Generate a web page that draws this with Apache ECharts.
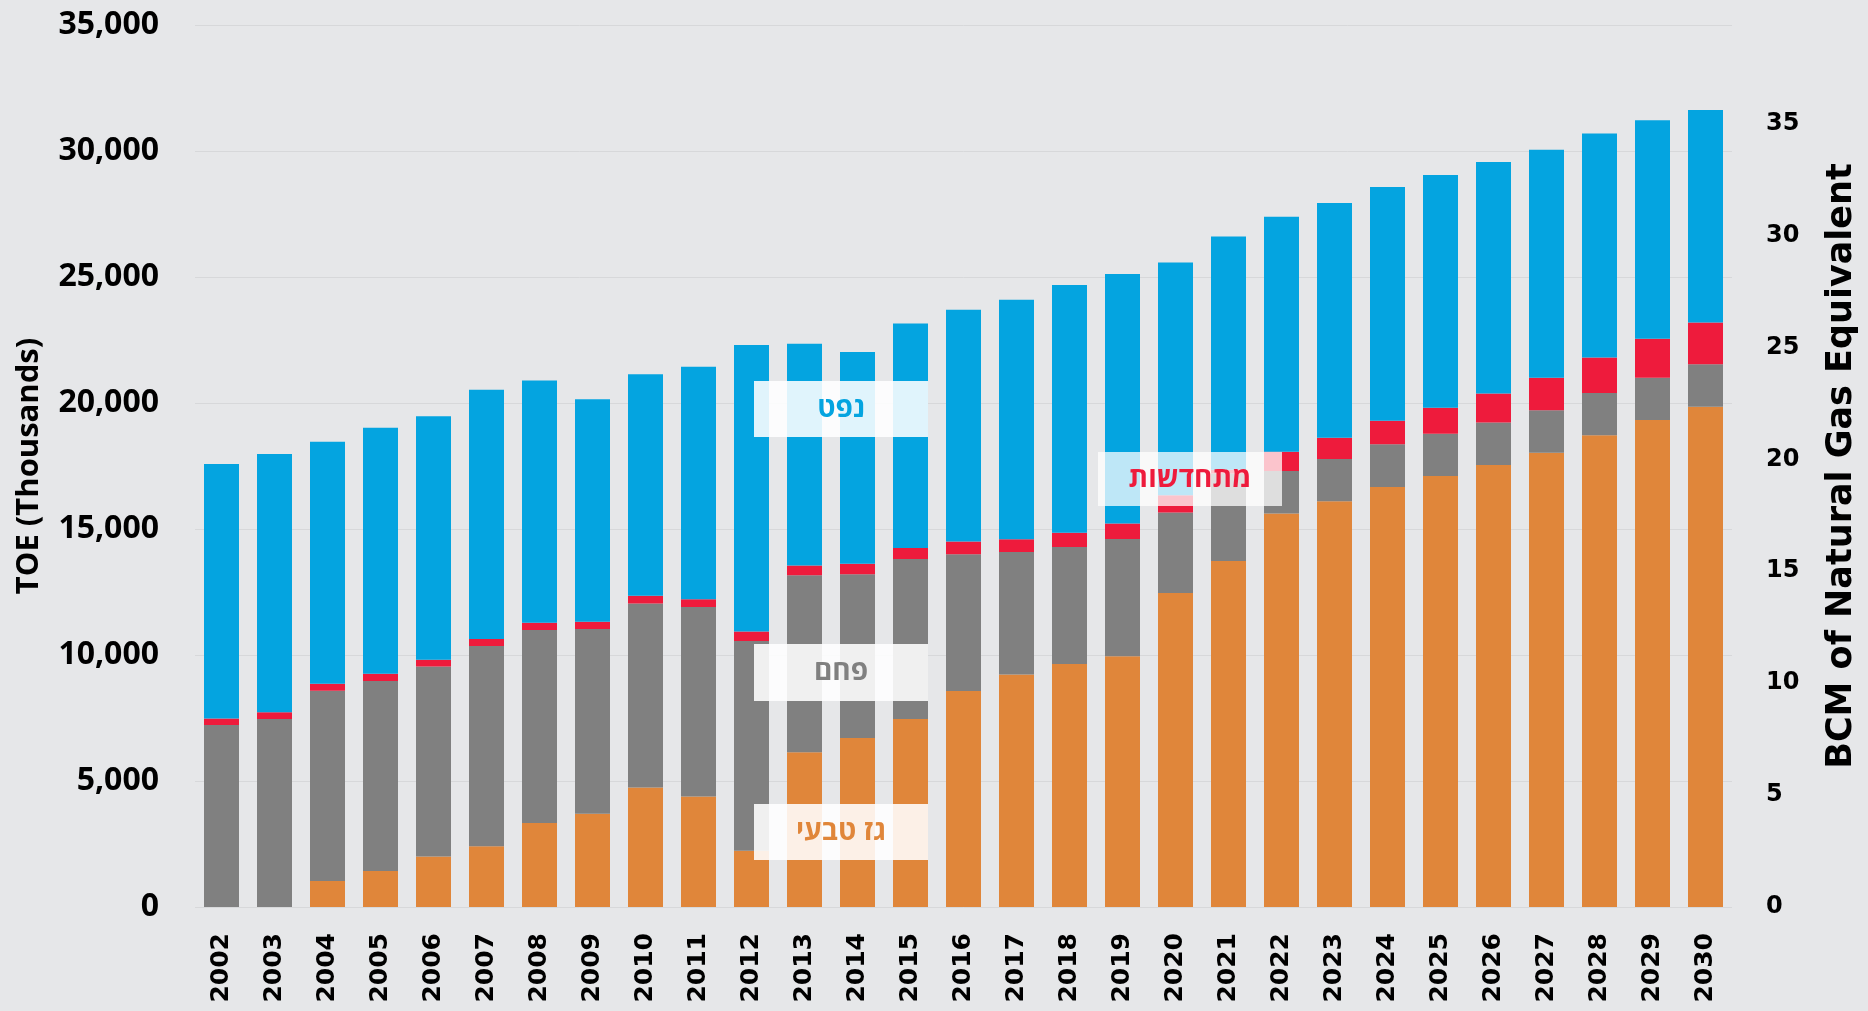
<!DOCTYPE html>
<html>
<head>
<meta charset="utf-8">
<title>Energy mix</title>
<script src="https://cdn.jsdelivr.net/npm/echarts@6/dist/echarts.min.js"></script>
<style>
  html, body { margin: 0; padding: 0; background: #e6e7e9; }
  #chart { width: 1868px; height: 1011px; }
</style>
</head>
<body>
<div id="chart"></div>
<script>
  // years on the x axis
  var years = ['2002','2003','2004','2005','2006','2007','2008','2009','2010','2011',
    '2012','2013','2014','2015','2016','2017','2018','2019','2020','2021',
    '2022','2023','2024','2025','2026','2027','2028','2029','2030'];

  // TOE (thousands), stacked bottom to top
  var gasValues = [0, 0, 1030, 1430, 2000, 2410, 3330, 3700, 4740, 4380,
    2230, 6140, 6710, 7460, 8570, 9230, 9640, 9950, 12460, 13730,
    15620, 16100, 16670, 17100, 17540, 18030, 18720, 19330, 19850];
  var coalValues = [7220, 7460, 7550, 7540, 7540, 7950, 7660, 7330, 7300, 7520,
    8330, 7020, 6490, 6350, 5430, 4860, 4650, 4650, 3190, 3470,
    1680, 1680, 1690, 1680, 1690, 1680, 1680, 1670, 1690];
  var renewValues = [260, 270, 280, 290, 270, 270, 290, 290, 310, 310,
    370, 390, 420, 440, 500, 500, 560, 620, 690, 150,
    770, 840, 940, 1030, 1150, 1290, 1410, 1550, 1650];
  var oilValues = [10100, 10250, 9600, 9760, 9660, 9900, 9610, 8830, 8790, 9230,
    11370, 8800, 8400, 8900, 9200, 9510, 9830, 9900, 9240, 9260,
    9320, 9320, 9270, 9240, 9180, 9050, 8880, 8670, 8440];

  // left axis 0..35,000 ; right axis BCM, same zero, 35 BCM sits lower
  var leftMax = 35000;
  var rightMax = 39.4;

  var chart = echarts.init(document.getElementById('chart'));

  // translucent white label box with the series name on it
  function labelBox(x, y, w, h, text, color, alpha) {
    return {
      type: 'group',
      x: x,
      y: y,
      children: [
        {
          type: 'rect',
          z: 100,
          shape: { x: 0, y: 0, width: w, height: h },
          style: { fill: 'rgba(255,255,255,' + alpha + ')' }
        },
        {
          type: 'text',
          z: 101,
          x: w / 2,
          y: h / 2,
          style: {
            text: text,
            fill: color,
            font: 'bold 28px "Open Sans", "DejaVu Sans", sans-serif',
            align: 'center',
            verticalAlign: 'middle'
          }
        }
      ]
    };
  }

  chart.setOption({
    backgroundColor: '#e6e7e9',
    animation: false,
    grid: {
      left: 195,
      right: 136,
      top: 25,
      bottom: 104
    },
    xAxis: {
      type: 'category',
      data: years,
      axisLine: { show: false },
      axisTick: { show: false },
      axisLabel: {
        rotate: 90,
        margin: 26,
        color: '#000',
        fontWeight: 'bold',
        fontSize: 25,
        fontFamily: 'DejaVu Sans',
        interval: 0
      }
    },
    yAxis: [
      {
        type: 'value',
        min: 0,
        max: leftMax,
        interval: 5000,
        name: 'TOE (Thousands)',
        nameLocation: 'middle',
        nameGap: 150,
        nameTextStyle: {
          color: '#000',
          fontWeight: 'bold',
          fontSize: 31,
          fontFamily: 'Open Sans'
        },
        axisLine: { show: false },
        axisTick: { show: false },
        splitLine: { lineStyle: { color: '#d7d8da', width: 1 } },
        axisLabel: {
          margin: 36,
          color: '#000',
          fontWeight: 'bold',
          fontSize: 32,
          fontFamily: 'Open Sans',
          formatter: function (v) { return v.toLocaleString('en-US'); }
        }
      },
      {
        type: 'value',
        min: 0,
        max: rightMax,
        interval: 5,
        position: 'right',
        name: 'BCM of Natural Gas Equivalent',
        nameLocation: 'middle',
        nameGap: 92,
        nameTextStyle: {
          color: '#000',
          fontWeight: 'bold',
          fontSize: 35,
          fontFamily: 'DejaVu Sans'
        },
        axisLine: { show: false },
        axisTick: { show: false },
        splitLine: { show: false },
        axisLabel: {
          margin: 34,
          color: '#000',
          fontWeight: 'bold',
          fontSize: 24,
          fontFamily: 'DejaVu Sans',
          formatter: function (v) { return v % 5 === 0 ? String(v) : ''; }
        }
      }
    ],
    series: [
      {
        name: 'גז טבעי',
        type: 'bar',
        stack: 'total',
        barWidth: 35,
        data: gasValues,
        itemStyle: { color: '#e0863a' }
      },
      {
        name: 'פחם',
        type: 'bar',
        stack: 'total',
        barWidth: 35,
        data: coalValues,
        itemStyle: { color: '#808080' }
      },
      {
        name: 'מתחדשות',
        type: 'bar',
        stack: 'total',
        barWidth: 35,
        data: renewValues,
        itemStyle: { color: '#ee1b3c' }
      },
      {
        name: 'נפט',
        type: 'bar',
        stack: 'total',
        barWidth: 35,
        data: oilValues,
        itemStyle: { color: '#04a4e0' }
      }
    ],
    graphic: [
      labelBox(754, 381, 174, 56, 'נפט', '#04a4e0', 0.88),
      labelBox(754, 644, 174, 57, 'פחם', '#808080', 0.88),
      labelBox(754, 804, 174, 56, 'גז טבעי', '#e0863a', 0.88),
      labelBox(1098, 452, 184, 54, 'מתחדשות', '#ee1b3c', 0.74)
    ]
  });
</script>
</body>
</html>
